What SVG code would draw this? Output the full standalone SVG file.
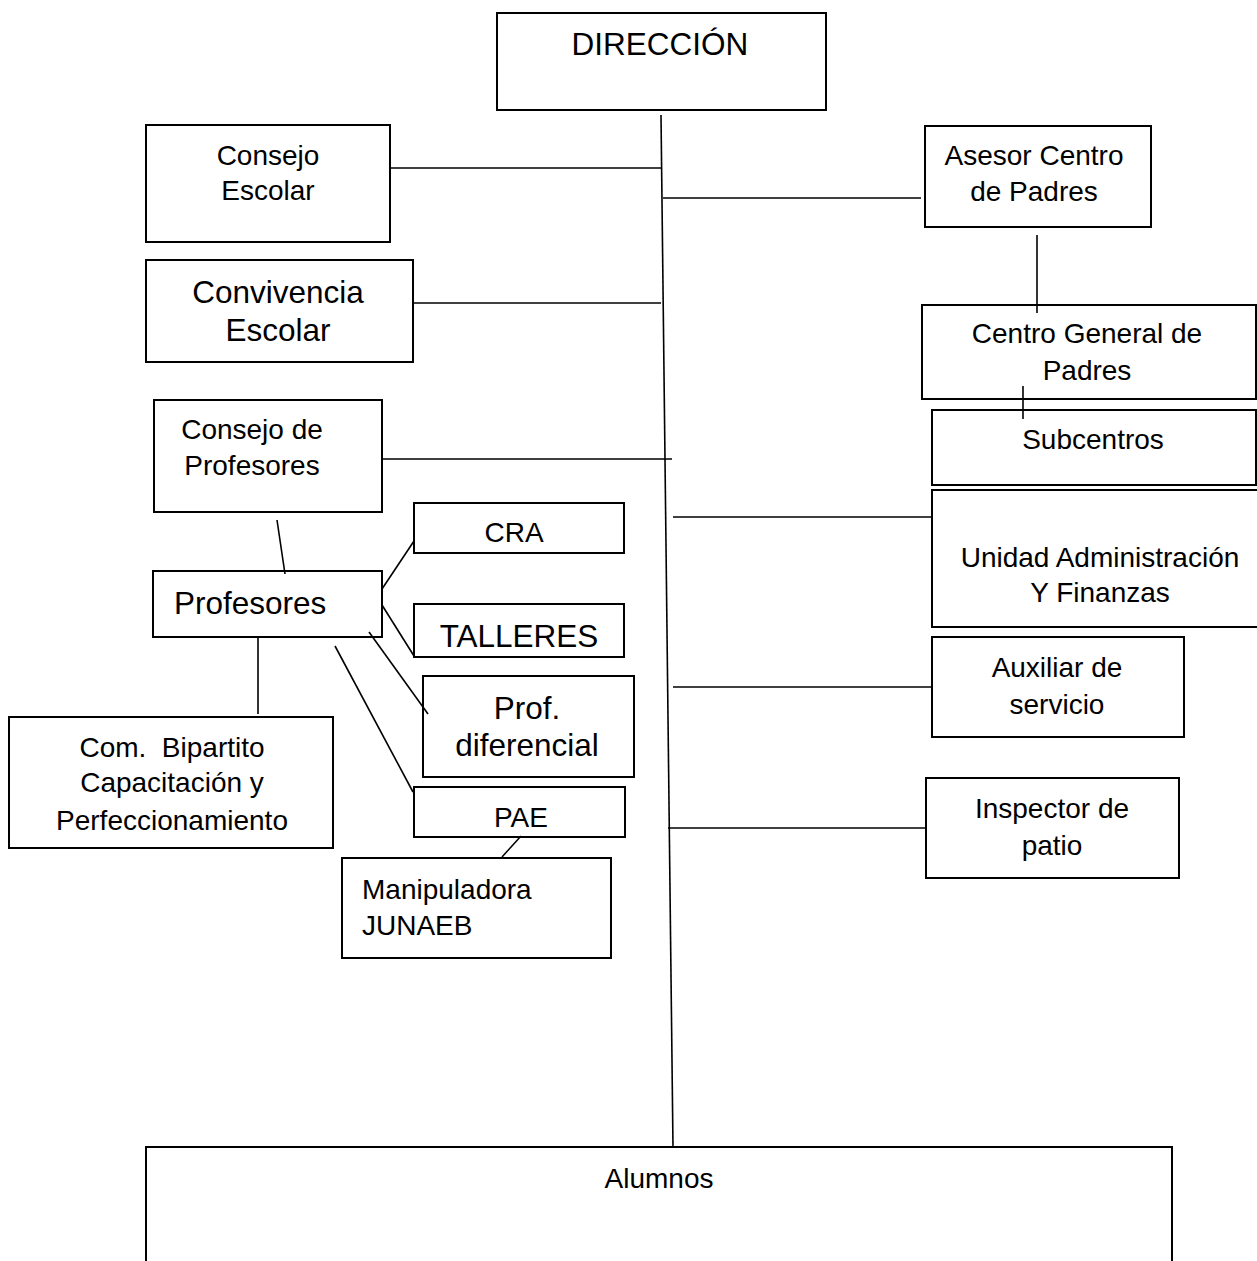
<svg xmlns="http://www.w3.org/2000/svg" width="1257" height="1261" viewBox="0 0 1257 1261">
<style>
.box{fill:#fff;stroke:#000;stroke-width:2}
.ln{stroke:#000;stroke-width:1.6;fill:none}
text{font-family:"Liberation Sans",Arial,sans-serif;fill:#000;white-space:pre}
.s{font-size:28px}
.l{font-size:31.5px}
.c{text-anchor:middle}
</style>
<rect width="1257" height="1261" fill="#fff"/>
<g id="direccion"><rect class="box" x="497" y="13" width="329" height="97"/><text class="l c" x="660" y="55">DIRECCIÓN</text></g>
<g id="consejo-escolar"><rect class="box" x="146" y="125" width="244" height="117"/><text class="s c" x="268" y="165">Consejo</text><text class="s c" x="268" y="200">Escolar</text></g>
<g id="asesor"><rect class="box" x="925" y="126" width="226" height="101"/><text class="s c" x="1034" y="165">Asesor Centro</text><text class="s c" x="1034" y="201">de Padres</text></g>
<g id="convivencia"><rect class="box" x="146" y="260" width="267" height="102"/><text class="l c" x="278" y="303">Convivencia</text><text class="l c" x="278" y="341">Escolar</text></g>
<g id="centro-general"><rect class="box" x="922" y="305" width="334" height="94"/><text class="s c" x="1087" y="343">Centro General de</text><text class="s c" x="1087" y="380">Padres</text></g>
<g id="subcentros"><rect class="box" x="932" y="410" width="324" height="75"/><text class="s c" x="1093" y="449">Subcentros</text></g>
<g id="consejo-profesores"><rect class="box" x="154" y="400" width="228" height="112"/><text class="s c" x="252" y="439">Consejo de</text><text class="s c" x="252" y="475">Profesores</text></g>
<g id="cra"><rect class="box" x="414" y="503" width="210" height="50"/><text class="s c" x="514" y="542">CRA</text></g>
<g id="unidad"><rect class="box" x="932" y="490" width="330" height="137"/><text class="s c" x="1100" y="567">Unidad Administración</text><text class="s c" x="1100" y="602">Y Finanzas</text></g>
<g id="profesores"><rect class="box" x="153" y="571" width="229" height="66"/><text class="l" x="174" y="614">Profesores</text></g>
<g id="talleres"><rect class="box" x="414" y="604" width="210" height="53"/><text class="l c" x="519" y="647">TALLERES</text></g>
<g id="prof-diferencial"><rect class="box" x="423" y="676" width="211" height="101"/><text class="l c" x="527" y="719">Prof.</text><text class="l c" x="527" y="756">diferencial</text></g>
<g id="auxiliar"><rect class="box" x="932" y="637" width="252" height="100"/><text class="s c" x="1057" y="677">Auxiliar de</text><text class="s c" x="1057" y="714">servicio</text></g>
<g id="com-bipartito"><rect class="box" x="9" y="717" width="324" height="131"/><text class="s c" x="172" y="757">Com.  Bipartito</text><text class="s c" x="172" y="792">Capacitación y</text><text class="s c" x="172" y="830">Perfeccionamiento</text></g>
<g id="pae"><rect class="box" x="414" y="787" width="211" height="50"/><text class="s c" x="521" y="827">PAE</text></g>
<g id="inspector"><rect class="box" x="926" y="778" width="253" height="100"/><text class="s c" x="1052" y="818">Inspector de</text><text class="s c" x="1052" y="855">patio</text></g>
<g id="manipuladora"><rect class="box" x="342" y="858" width="269" height="100"/><text class="s" x="362" y="899">Manipuladora</text><text class="s" x="362" y="935">JUNAEB</text></g>
<g id="alumnos"><rect class="box" x="146" y="1147" width="1026" height="130"/><text class="s c" x="659" y="1188">Alumnos</text></g>
<g id="connectors">
<line class="ln" x1="661" y1="115" x2="673" y2="1147"/>
<line class="ln" x1="390" y1="168" x2="661" y2="168"/>
<line class="ln" x1="663" y1="198" x2="921" y2="198"/>
<line class="ln" x1="413" y1="303" x2="661" y2="303"/>
<line class="ln" x1="1037" y1="235" x2="1037" y2="313"/>
<line class="ln" x1="1023" y1="386" x2="1023" y2="419"/>
<line class="ln" x1="382" y1="459" x2="672" y2="459"/>
<line class="ln" x1="673" y1="517" x2="932" y2="517"/>
<line class="ln" x1="673" y1="687" x2="932" y2="687"/>
<line class="ln" x1="668" y1="828" x2="926" y2="828"/>
<line class="ln" x1="277" y1="520" x2="285" y2="574"/>
<line class="ln" x1="382" y1="589" x2="414" y2="541"/>
<line class="ln" x1="382" y1="605" x2="414" y2="656"/>
<line class="ln" x1="369" y1="632" x2="428" y2="714"/>
<line class="ln" x1="335" y1="646" x2="413" y2="792"/>
<line class="ln" x1="258" y1="637" x2="258" y2="714"/>
<line class="ln" x1="521" y1="836" x2="502" y2="857"/>
</g>
</svg>
